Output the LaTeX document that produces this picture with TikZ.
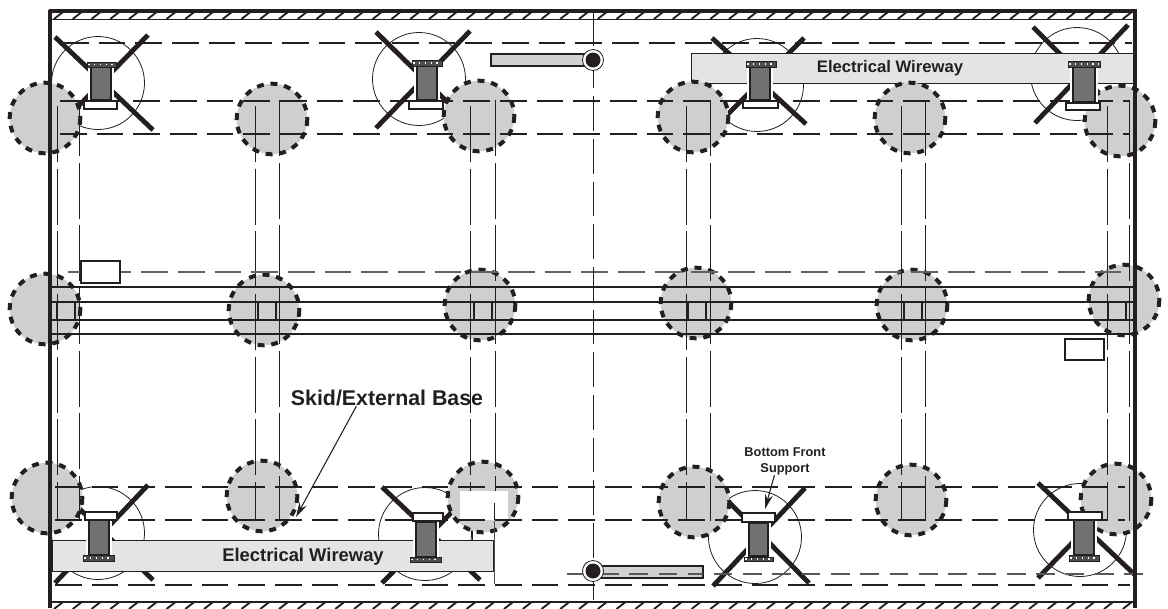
\documentclass[tikz,border=0pt]{standalone}
\usepackage{fontspec}
\setmainfont{Liberation Sans}
\usetikzlibrary{arrows.meta}
\definecolor{padgray}{HTML}{CDCFD1}
\definecolor{waygray}{HTML}{E4E4E4}
\definecolor{postgray}{HTML}{6F7173}
\definecolor{rodgray}{HTML}{CFD1D2}
\definecolor{ink}{HTML}{231F20}
\tikzset{
  x=0.75pt,y=-0.75pt,
  frameline/.style={line width=2.6pt,line cap=butt},
  hatchline/.style={line width=1.4pt},
  ring/.style={line width=0.6pt},
  crossbar/.style={line width=3.6pt},
  pad/.style={fill=padgray,draw=ink,line width=3pt,dash pattern=on 5.2pt off 5.1pt},
  way/.style={fill=waygray,draw=ink,line width=0.6pt},
  hdash/.style={line width=0.9pt,dash pattern=on 20pt off 7.5pt},
  vdash/.style={line width=0.6pt,dash pattern=on 42pt off 5pt},
  center line/.style={line width=0.7pt,dash pattern=on 26pt off 6pt},
  rail/.style={line width=0.8pt},
  railthick/.style={line width=1.7pt},
  postbody/.style={fill=postgray,draw=ink,line width=1.1pt,preaction={draw=white,line width=4pt}},
  whitebase/.style={fill=white,draw=ink,line width=1pt},
  hatchbase/.style={fill=ink!80,draw=ink,line width=0.6pt},
  hatchdots/.style={draw=white,line width=1.2pt,dash pattern=on 1.2pt off 3.2pt},
  smallbox/.style={fill=white,draw=ink,line width=0.8pt},
  rod/.style={fill=rodgray,draw=ink,line width=1.1pt},
  lab/.style={inner sep=0pt,text=ink,align=center},
  leader/.style={line width=0.8pt,-{Stealth[length=11pt,width=6pt]}}
}
\begin{document}
\begin{tikzpicture}[color=ink]
\useasboundingbox (0,0) rectangle (1168,608);
\begin{scope}
\clip (50,0) rectangle (1135,608);
\foreach \h in {0,...,60}{
  \draw[hatchline] ({54+\h*18.75},19) -- ({63+\h*18.75},12);
  \draw[hatchline] ({54+\h*18.75},609) -- ({63+\h*18.75},602);
}
\end{scope}
\draw[line width=0.8pt] (50,19.5) -- (1135,19.5);
\draw[line width=0.8pt] (50,602) -- (1135,602);
\draw[ring] (98,83) circle (46.5);
\draw[ring] (419,79) circle (46.5);
\draw[ring] (757,85) circle (46.5);
\draw[ring] (1077,74) circle (46.5);
\draw[ring] (98,533) circle (46.5);
\draw[ring] (425,534) circle (46.5);
\draw[ring] (755,537) circle (46.5);
\draw[ring] (1080,530) circle (46.5);
\draw[crossbar] (55,37) -- (153,130);
\draw[crossbar] (148,35) -- (55,130);
\draw[crossbar] (376,32) -- (476,130);
\draw[crossbar] (470,31) -- (376,128);
\draw[crossbar] (712,38) -- (806,124);
\draw[crossbar] (804,38) -- (712,130);
\draw[crossbar] (1033,27) -- (1128,122);
\draw[crossbar] (1128,25) -- (1035,123);
\draw[crossbar] (55,485) -- (153,580);
\draw[crossbar] (148,485) -- (55,583);
\draw[crossbar] (382,487) -- (480,580);
\draw[crossbar] (452,512) -- (382,583);
\draw[crossbar] (712,485) -- (809,583);
\draw[crossbar] (805,488) -- (713,586);
\draw[crossbar] (1038,483) -- (1135,575);
\draw[crossbar] (1075,540) -- (1038,578);
\draw[way] (691,53) rectangle (1135,83);
\draw[way] (52,540) rectangle (493,571);
\draw[line width=0.6pt] (472,530) -- (472,540);
\foreach \cx/\cy in {45/118,272/119,479/116,693/117,910/118,1120/121,
  45/309,264/310,480/305,696/303,912/305,1124/300,
  47/498,262/496,483/497,694/502,911/500,1116/499}{
  \draw[pad] (\cx,\cy) circle (35.3);
}
\foreach \vx in {57,255,470,686,901,1107}{
  \draw[vdash] (\vx,106) -- (\vx,521);
}
\foreach \vx in {79,279,495,710,925,1129}{
  \draw[vdash] (\vx,100) -- (\vx,521);
}
\draw[line width=0.7pt,color=ink!80] (494,521) -- (494,584);
\fill[white] (460,491) rectangle (508,520);
\draw[line width=0.7pt] (494,503) -- (494,520);
\draw[hdash] (62,43) -- (1132,43);
\draw[hdash] (60,101) -- (1130,101);
\draw[hdash] (60,134) -- (1130,134);
\draw[hdash,color=ink!70] (68,272) -- (1130,272);
\draw[hdash] (55,487) -- (1125,487);
\draw[hdash] (55,520) -- (1125,520);
\draw[hdash,dash pattern=on 14pt off 8pt,color=ink!75] (567,574) -- (1150,574);
\draw[hdash] (55,585) -- (1130,585);
\draw[center line] (593,11) -- (593,600);
\draw[rail] (50,287) -- (1135,287);
\draw[railthick] (50,302) -- (1135,302);
\draw[rail] (50,320) -- (1135,320);
\draw[rail] (50,334) -- (1135,334);
\foreach \sx in {57,258,474,688,904,1108}{
  \draw[line width=0.8pt] (\sx,302) rectangle (\sx+18,320);
}
\draw[frameline] (48.5,11) -- (1136.5,11);
\draw[frameline] (50,9.5) -- (50,608);
\draw[frameline] (1135,9.5) -- (1135,608);
\draw[rod] (491,54) rectangle (587,66);
\draw[rod] (600,566) rectangle (703,578);
\draw[hdash,dash pattern=on 14pt off 8pt,color=ink!75] (600,574) -- (703,574);
\fill[white] (593,60) circle (10.5);
\draw[ring] (593,60) circle (10.5);
\fill (593,60) circle (7.5);
\fill[white] (593,571) circle (10.5);
\draw[ring] (593,571) circle (10.5);
\fill (593,571) circle (7.5);
\draw[postbody] (91,67) rectangle (111,100);
\draw[whitebase] (84,101) rectangle (117,109);
\draw[hatchbase] (87,62) rectangle (116,67);
\draw[hatchdots] (88,64.5) -- (115,64.5);
\draw[postbody] (417,66) rectangle (437,100);
\draw[whitebase] (409,101) rectangle (443,109);
\draw[hatchbase] (412,60) rectangle (442,66);
\draw[hatchdots] (413,63) -- (441,63);
\draw[postbody] (750,67) rectangle (770,100);
\draw[whitebase] (743,101) rectangle (778,108);
\draw[hatchbase] (746,61) rectangle (776,67);
\draw[hatchdots] (747,64) -- (775,64);
\draw[postbody] (1073,67) rectangle (1095,102);
\draw[whitebase] (1066,103) rectangle (1100,110);
\draw[hatchbase] (1068,61) rectangle (1100,67);
\draw[hatchdots] (1069,64) -- (1099,64);
\draw[postbody] (89,520) rectangle (109,555);
\draw[whitebase] (85,512) rectangle (117,520);
\draw[hatchbase] (83,555) rectangle (114,561);
\draw[hatchdots] (84,558) -- (113,558);
\draw[postbody] (416,522) rectangle (436,557);
\draw[whitebase] (413,513) rectangle (443,521);
\draw[hatchbase] (410,557) rectangle (441,562);
\draw[hatchdots] (411,559.5) -- (440,559.5);
\draw[postbody] (749,523) rectangle (768,556);
\draw[whitebase] (742,513) rectangle (775,522);
\draw[hatchbase] (744,557) rectangle (773,561);
\draw[hatchdots] (745,559) -- (772,559);
\draw[postbody] (1074,520) rectangle (1094,555);
\draw[whitebase] (1068,512) rectangle (1102,520);
\draw[hatchbase] (1069,555) rectangle (1099,561);
\draw[hatchdots] (1070,558) -- (1098,558);
\draw[smallbox] (81,261) rectangle (120,283);
\draw[smallbox] (1065,339) rectangle (1104,360);
\node[lab,font=\bfseries\fontsize{12.5}{14}\selectfont] (wayA) at (890,68) {Electrical Wireway};
\node[lab,font=\bfseries\fontsize{13.8}{16}\selectfont] (wayB) at (303,557) {Electrical Wireway};
\node[lab,font=\bfseries\fontsize{16}{18}\selectfont] (skid) at (387,398) {Skid/External Base};
\node[lab,font=\bfseries\fontsize{9.6}{12}\selectfont] (bfs) at (785,461) {Bottom Front\\Support};
\coordinate (skidtip) at (296,517);
\coordinate (bfstip) at (765,509);
\draw[leader] (skid.195) -- (skidtip);
\draw[leader] (bfs.233) -- (bfstip);
\end{tikzpicture}
\end{document}
